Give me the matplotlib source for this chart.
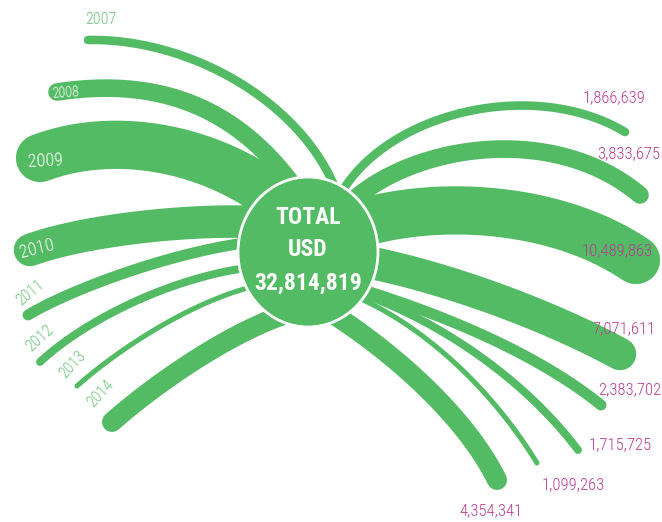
""" Yearly spending fan chart """

import numpy as np
from matplotlib import pyplot as plt
from matplotlib.patches import Ellipse

# Data
years = ['2007', '2008', '2009', '2010', '2011', '2012', '2013', '2014']
values = [1866639, 3833675, 10489863, 7071611, 2383702, 1715725, 1099263, 4354341]
total = sum(values)

GREEN = '#53bb64'
LIGHT_GREEN = '#6ec57d'
MAGENTA = '#b83a96'
PX_PER_MILLION = 4.6

# Layout: cubic bezier control points (pixel space) for each stroke
left_paths = [
    [(336, 190), (300, 100), (188, 38), (88, 40)],
    [(300, 195), (235, 100), (150, 78), (57, 92)],
    [(295, 215), (225, 150), (120, 128), (40, 158)],
    [(290, 225), (220, 215), (90, 228), (30, 250)],
    [(290, 240), (210, 238), (78, 285), (28, 315)],
    [(295, 265), (200, 262), (90, 315), (40, 362)],
    [(300, 280), (220, 280), (122, 346), (77, 386)],
    [(300, 310), (240, 325), (157, 382), (112, 422)],
]
right_paths = [
    [(335, 205), (375, 115), (530, 75), (625, 132)],
    [(335, 220), (385, 150), (545, 115), (640, 195)],
    [(320, 240), (390, 200), (540, 195), (636, 260)],
    [(320, 255), (400, 262), (530, 305), (620, 354)],
    [(330, 280), (400, 300), (520, 340), (601, 405)],
    [(330, 285), (400, 300), (510, 360), (578, 450)],
    [(330, 288), (395, 305), (480, 370), (537, 463)],
    [(318, 305), (370, 335), (460, 405), (497, 480)],
]

# year label: x, y, rotation, colour inside (white) or outside (green)
year_labels = [
    (101, 20, 0, LIGHT_GREEN),
    (66, 93, 4, 'white'),
    (45, 161, 3, 'white'),
    (37, 249, 14, 'white'),
    (30, 292, 40, LIGHT_GREEN),
    (40, 338, 42, LIGHT_GREEN),
    (72, 365, 47, LIGHT_GREEN),
    (100, 394, 47, LIGHT_GREEN),
]
value_labels = [(614, 98), (629, 154), (617, 251), (624, 329),
                (630, 390), (620, 445), (573, 485), (491, 511)]

narrow = ['Roboto Condensed', 'Open Sans Condensed', 'Liberation Sans Narrow',
          'Roboto', 'DejaVu Sans']


def bezier(pts, n=120):
    p = np.array(pts, dtype=float)
    t = np.linspace(0, 1, n)[:, None]
    return ((1 - t) ** 3 * p[0] + 3 * (1 - t) ** 2 * t * p[1]
            + 3 * (1 - t) * t ** 2 * p[2] + t ** 3 * p[3])


fig = plt.figure(figsize=(6.62, 5.22), dpi=100)
ax = fig.add_axes([0, 0, 1, 1])
ax.set_xlim(0, 662)
ax.set_ylim(522, 0)
ax.axis('off')

# Strokes, width from value
for value, lp, rp in zip(values, left_paths, right_paths):
    lw = PX_PER_MILLION * value / 1e6 * 72 / 100
    for pts in (lp, rp):
        curve = bezier(pts)
        ax.plot(curve[:, 0], curve[:, 1], color=GREEN, linewidth=lw,
                solid_capstyle='round', zorder=2)

# Centre disc
ax.add_patch(Ellipse((308, 252), 140, 150, facecolor=GREEN, edgecolor='white',
                     linewidth=2, zorder=3))
for y, txt in zip([218, 250, 283], ['TOTAL', 'USD', f'{total:,}']):
    ax.text(308, y, txt, ha='center', va='center', color='white',
            fontsize=17, fontweight='bold', family=narrow, zorder=4)

# Labels
for year, (x, y, rot, col) in zip(years, year_labels):
    size = 11.5 if col != 'white' else (10 if year == '2008' else 13)
    ax.text(x, y, year, ha='center', va='center', color=col, rotation=rot,
            rotation_mode='anchor', fontsize=size, fontweight='light',
            family=narrow, zorder=5)

for value, (x, y) in zip(values, value_labels):
    ax.text(x, y, f'{value:,}', ha='center', va='center', color=MAGENTA,
            fontsize=12, fontweight='light', family=narrow, zorder=5)

plt.savefig('out.png', dpi=100)
